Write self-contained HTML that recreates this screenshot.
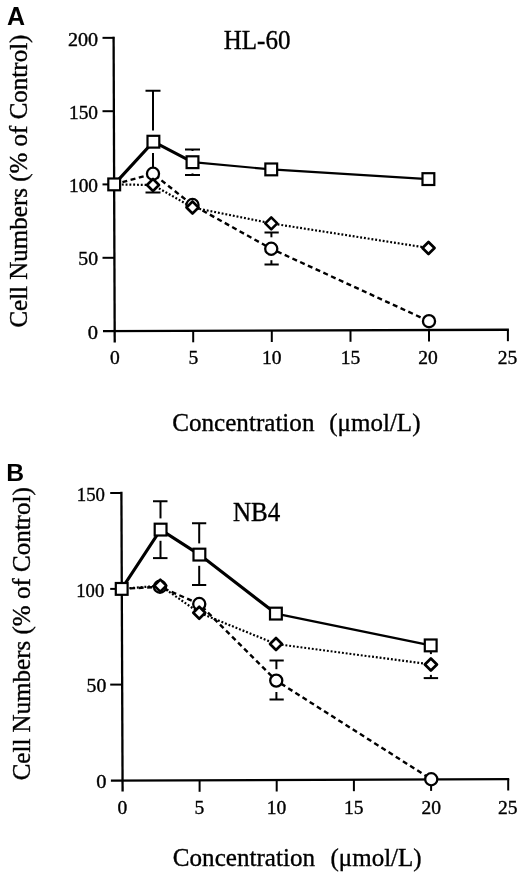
<!DOCTYPE html>
<html lang="en"><head><meta charset="utf-8"><title>Figure</title>
<style>html,body{margin:0;padding:0;background:#fff;}svg{display:block;}</style>
</head><body>
<svg width="520" height="872" viewBox="0 0 520 872">
<rect width="520" height="872" fill="#fff"/>
<g id="panelA">
<text transform="translate(7.0,24.7)" font-family='"Liberation Sans", sans-serif' font-size="25" font-weight="bold" text-anchor="start" fill="#000" stroke="#000" stroke-width="0">A</text>
<line x1="113.6" y1="36.8" x2="114.72" y2="342.5" stroke="#000" stroke-width="2.3" />
<line x1="103" y1="331.15" x2="508.9" y2="329.75" stroke="#000" stroke-width="2.3" />
<line x1="102.5" y1="37.85" x2="114.3" y2="37.85" stroke="#000" stroke-width="2.0" />
<line x1="102.5" y1="111.2" x2="114.3" y2="111.2" stroke="#000" stroke-width="2.0" />
<line x1="102.5" y1="184.4" x2="114.3" y2="184.4" stroke="#000" stroke-width="2.0" />
<line x1="102.5" y1="257.8" x2="114.3" y2="257.8" stroke="#000" stroke-width="2.0" />
<line x1="193.2" y1="330.8" x2="193.2" y2="342.3" stroke="#000" stroke-width="2.0" />
<line x1="271.8" y1="330.5" x2="271.8" y2="342.0" stroke="#000" stroke-width="2.0" />
<line x1="350.5" y1="330.3" x2="350.5" y2="341.8" stroke="#000" stroke-width="2.0" />
<line x1="429" y1="330" x2="429" y2="341.5" stroke="#000" stroke-width="2.0" />
<line x1="507.9" y1="329.7" x2="507.9" y2="341.2" stroke="#000" stroke-width="2.0" />
<text transform="translate(98,46) scale(1.08,1)" font-family='"Liberation Serif", serif' font-size="18.6" font-weight="normal" text-anchor="end" fill="#000" stroke="#000" stroke-width="0.35">200</text>
<text transform="translate(98,119) scale(1.04,1)" font-family='"Liberation Serif", serif' font-size="18.6" font-weight="normal" text-anchor="end" fill="#000" stroke="#000" stroke-width="0.35">150</text>
<text transform="translate(98,192) scale(1.04,1)" font-family='"Liberation Serif", serif' font-size="18.6" font-weight="normal" text-anchor="end" fill="#000" stroke="#000" stroke-width="0.35">100</text>
<text transform="translate(98,265) scale(1.06,1)" font-family='"Liberation Serif", serif' font-size="18.6" font-weight="normal" text-anchor="end" fill="#000" stroke="#000" stroke-width="0.35">50</text>
<text transform="translate(98,338.6) scale(1.1,1)" font-family='"Liberation Serif", serif' font-size="18.6" font-weight="normal" text-anchor="end" fill="#000" stroke="#000" stroke-width="0.35">0</text>
<text transform="translate(114.9,364) scale(1.05,1)" font-family='"Liberation Serif", serif' font-size="18.6" font-weight="normal" text-anchor="middle" fill="#000" stroke="#000" stroke-width="0.35">0</text>
<text transform="translate(193.5,364) scale(1.05,1)" font-family='"Liberation Serif", serif' font-size="18.6" font-weight="normal" text-anchor="middle" fill="#000" stroke="#000" stroke-width="0.35">5</text>
<text transform="translate(271.7,364) scale(1.05,1)" font-family='"Liberation Serif", serif' font-size="18.6" font-weight="normal" text-anchor="middle" fill="#000" stroke="#000" stroke-width="0.35">10</text>
<text transform="translate(350.5,364) scale(1.05,1)" font-family='"Liberation Serif", serif' font-size="18.6" font-weight="normal" text-anchor="middle" fill="#000" stroke="#000" stroke-width="0.35">15</text>
<text transform="translate(428,364) scale(1.05,1)" font-family='"Liberation Serif", serif' font-size="18.6" font-weight="normal" text-anchor="middle" fill="#000" stroke="#000" stroke-width="0.35">20</text>
<text transform="translate(507.4,364) scale(1.05,1)" font-family='"Liberation Serif", serif' font-size="18.6" font-weight="normal" text-anchor="middle" fill="#000" stroke="#000" stroke-width="0.35">25</text>
<text transform="translate(223.8,49.0) scale(1,1.05)" font-family='"Liberation Serif", serif' font-size="25" font-weight="normal" text-anchor="start" fill="#000" stroke="#000" stroke-width="0.35">HL-60</text>
<text transform="translate(172.2,430.5) scale(1.005,1.02)" font-family='"Liberation Serif", serif' font-size="25" font-weight="normal" text-anchor="start" fill="#000" stroke="#000" stroke-width="0.35">Concentration</text>
<text transform="translate(329.3,430.5) scale(1,1.02)" font-family='"Liberation Serif", serif' font-size="25" font-weight="normal" text-anchor="start" fill="#000" stroke="#000" stroke-width="0.35">(μmol/L)</text>
<text transform="translate(27.2,327.6) rotate(-90)" font-family='"Liberation Serif", serif' font-size="25" font-weight="normal" text-anchor="start" fill="#000" stroke="#000" stroke-width="0.35">Cell Numbers (% of Control)</text>
<line x1="153" y1="90.75" x2="153" y2="130.5" stroke="#000" stroke-width="2.0" />
<line x1="153" y1="152.89999999999998" x2="153" y2="192.5" stroke="#000" stroke-width="2.0" />
<line x1="145.5" y1="90.75" x2="160.5" y2="90.75" stroke="#000" stroke-width="2.0" />
<line x1="145.5" y1="192.5" x2="160.5" y2="192.5" stroke="#000" stroke-width="2.0" />
<line x1="192.5" y1="149.5" x2="192.5" y2="151.0" stroke="#000" stroke-width="2.0" />
<line x1="192.5" y1="173.39999999999998" x2="192.5" y2="175" stroke="#000" stroke-width="2.0" />
<line x1="185" y1="149.5" x2="200" y2="149.5" stroke="#000" stroke-width="2.0" />
<line x1="185" y1="175" x2="200" y2="175" stroke="#000" stroke-width="2.0" />
<line x1="271.4" y1="232.5" x2="271.4" y2="237.3" stroke="#000" stroke-width="2.0" />
<line x1="271.4" y1="260.2" x2="271.4" y2="264.5" stroke="#000" stroke-width="2.0" />
<line x1="264.5" y1="232.5" x2="278.75" y2="232.5" stroke="#000" stroke-width="2.0" />
<line x1="264.5" y1="264.5" x2="278.75" y2="264.5" stroke="#000" stroke-width="2.0" />
<polyline points="114.2,184.4 153.4,141.7 192.5,162.2" fill="none" stroke="#000" stroke-width="3.1" stroke-linejoin="miter"/>
<polyline points="192.5,162.2 271.25,169.4 428.4,179.1" fill="none" stroke="#000" stroke-width="2.2" />
<polyline points="114.2,184.4 153,173.75 192.5,205 271.25,248.75 429,321.2" fill="none" stroke="#000" stroke-width="2.4" stroke-dasharray="5 3.5"/>
<polyline points="114.2,184.4 153,185 192.5,207.5 271.25,223.4 428.5,248" fill="none" stroke="#000" stroke-width="2.2" stroke-dasharray="1.9 1.9"/>
<circle cx="153" cy="173.75" r="6.05" fill="#fff" stroke="#000" stroke-width="2.3"/>
<circle cx="192.5" cy="205" r="6.05" fill="#fff" stroke="#000" stroke-width="2.3"/>
<circle cx="271.25" cy="248.75" r="6.05" fill="#fff" stroke="#000" stroke-width="2.3"/>
<circle cx="429" cy="321.2" r="6.05" fill="#fff" stroke="#000" stroke-width="2.3"/>
<polygon points="153,179.00 159.00,185 153,191.00 147.00,185" fill="#fff" stroke="#000" stroke-width="2.6" stroke-linejoin="round"/>
<polygon points="192.5,201.50 198.50,207.5 192.5,213.50 186.50,207.5" fill="#fff" stroke="#000" stroke-width="2.6" stroke-linejoin="round"/>
<polygon points="271.25,217.40 277.25,223.4 271.25,229.40 265.25,223.4" fill="#fff" stroke="#000" stroke-width="2.6" stroke-linejoin="round"/>
<polygon points="428.5,241.95 434.55,248 428.5,254.05 422.45,248" fill="#fff" stroke="#000" stroke-width="2.7" stroke-linejoin="round"/>
<rect x="108.30" y="178.50" width="11.80" height="11.80" fill="#fff" stroke="#000" stroke-width="2.2"/>
<rect x="147.50" y="135.80" width="11.80" height="11.80" fill="#fff" stroke="#000" stroke-width="2.2"/>
<rect x="186.60" y="156.30" width="11.80" height="11.80" fill="#fff" stroke="#000" stroke-width="2.2"/>
<rect x="265.35" y="163.50" width="11.80" height="11.80" fill="#fff" stroke="#000" stroke-width="2.2"/>
<rect x="422.50" y="173.20" width="11.80" height="11.80" fill="#fff" stroke="#000" stroke-width="2.2"/>
</g>
<g id="panelB">
<text transform="translate(6.3,481.2)" font-family='"Liberation Sans", sans-serif' font-size="24.7" font-weight="bold" text-anchor="start" fill="#000" stroke="#000" stroke-width="0">B</text>
<line x1="121.4" y1="491.85" x2="122.6" y2="791.6" stroke="#000" stroke-width="2.3" />
<line x1="110.9" y1="780.67" x2="509.2" y2="779.03" stroke="#000" stroke-width="2.3" />
<line x1="110.2" y1="493.0" x2="122" y2="493.0" stroke="#000" stroke-width="2.0" />
<line x1="110.2" y1="588.9" x2="122" y2="588.9" stroke="#000" stroke-width="2.0" />
<line x1="110.2" y1="684.6" x2="122" y2="684.6" stroke="#000" stroke-width="2.0" />
<line x1="199.6" y1="780.3" x2="199.6" y2="791.8" stroke="#000" stroke-width="2.0" />
<line x1="276.7" y1="780" x2="276.7" y2="791.5" stroke="#000" stroke-width="2.0" />
<line x1="353.9" y1="779.7" x2="353.9" y2="791.2" stroke="#000" stroke-width="2.0" />
<line x1="431.1" y1="779.4" x2="431.1" y2="790.9" stroke="#000" stroke-width="2.0" />
<line x1="508.2" y1="779.0" x2="508.2" y2="790.5" stroke="#000" stroke-width="2.0" />
<text transform="translate(105,501.1) scale(1.01,1)" font-family='"Liberation Serif", serif' font-size="18.6" font-weight="normal" text-anchor="end" fill="#000" stroke="#000" stroke-width="0.35">150</text>
<text transform="translate(104.2,596.8)" font-family='"Liberation Serif", serif' font-size="18.6" font-weight="normal" text-anchor="end" fill="#000" stroke="#000" stroke-width="0.35">100</text>
<text transform="translate(106.3,692.3) scale(1.06,1)" font-family='"Liberation Serif", serif' font-size="18.6" font-weight="normal" text-anchor="end" fill="#000" stroke="#000" stroke-width="0.35">50</text>
<text transform="translate(106.5,787.8) scale(1.1,1)" font-family='"Liberation Serif", serif' font-size="18.6" font-weight="normal" text-anchor="end" fill="#000" stroke="#000" stroke-width="0.35">0</text>
<text transform="translate(122.5,813.7) scale(1.05,1)" font-family='"Liberation Serif", serif' font-size="18.6" font-weight="normal" text-anchor="middle" fill="#000" stroke="#000" stroke-width="0.35">0</text>
<text transform="translate(199.5,813.7) scale(1.05,1)" font-family='"Liberation Serif", serif' font-size="18.6" font-weight="normal" text-anchor="middle" fill="#000" stroke="#000" stroke-width="0.35">5</text>
<text transform="translate(276.5,813.7) scale(1.05,1)" font-family='"Liberation Serif", serif' font-size="18.6" font-weight="normal" text-anchor="middle" fill="#000" stroke="#000" stroke-width="0.35">10</text>
<text transform="translate(353.75,813.7) scale(1.05,1)" font-family='"Liberation Serif", serif' font-size="18.6" font-weight="normal" text-anchor="middle" fill="#000" stroke="#000" stroke-width="0.35">15</text>
<text transform="translate(431.25,813.7) scale(1.05,1)" font-family='"Liberation Serif", serif' font-size="18.6" font-weight="normal" text-anchor="middle" fill="#000" stroke="#000" stroke-width="0.35">20</text>
<text transform="translate(507.7,813.7) scale(1.05,1)" font-family='"Liberation Serif", serif' font-size="18.6" font-weight="normal" text-anchor="middle" fill="#000" stroke="#000" stroke-width="0.35">25</text>
<text transform="translate(233,521.0) scale(1,1.05)" font-family='"Liberation Serif", serif' font-size="25" font-weight="normal" text-anchor="start" fill="#000" stroke="#000" stroke-width="0.35">NB4</text>
<text transform="translate(172.8,866.2) scale(1.005,1.02)" font-family='"Liberation Serif", serif' font-size="25" font-weight="normal" text-anchor="start" fill="#000" stroke="#000" stroke-width="0.35">Concentration</text>
<text transform="translate(330.5,866.2) scale(1,1.02)" font-family='"Liberation Serif", serif' font-size="25" font-weight="normal" text-anchor="start" fill="#000" stroke="#000" stroke-width="0.35">(μmol/L)</text>
<text transform="translate(29.5,780.3) rotate(-90)" font-family='"Liberation Serif", serif' font-size="25" font-weight="normal" text-anchor="start" fill="#000" stroke="#000" stroke-width="0.35">Cell Numbers (% of Control)</text>
<line x1="160.5" y1="501.25" x2="160.5" y2="518.4" stroke="#000" stroke-width="2.0" />
<line x1="160.5" y1="540.8000000000001" x2="160.5" y2="558.1" stroke="#000" stroke-width="2.0" />
<line x1="153" y1="501.25" x2="167.5" y2="501.25" stroke="#000" stroke-width="2.0" />
<line x1="153" y1="558.1" x2="167.5" y2="558.1" stroke="#000" stroke-width="2.0" />
<line x1="199.2" y1="523.25" x2="199.2" y2="543.4" stroke="#000" stroke-width="2.0" />
<line x1="199.2" y1="565.8000000000001" x2="199.2" y2="585" stroke="#000" stroke-width="2.0" />
<line x1="192" y1="523.25" x2="206.25" y2="523.25" stroke="#000" stroke-width="2.0" />
<line x1="192" y1="585" x2="206.25" y2="585" stroke="#000" stroke-width="2.0" />
<line x1="276.4" y1="660.5" x2="276.4" y2="669.1999999999999" stroke="#000" stroke-width="2.0" />
<line x1="276.4" y1="692.0" x2="276.4" y2="699.5" stroke="#000" stroke-width="2.0" />
<line x1="269.5" y1="660.5" x2="283.75" y2="660.5" stroke="#000" stroke-width="2.0" />
<line x1="269.5" y1="699.5" x2="283.75" y2="699.5" stroke="#000" stroke-width="2.0" />
<line x1="430.9" y1="651" x2="430.9" y2="654.1" stroke="#000" stroke-width="2.0" />
<line x1="430.9" y1="674.9" x2="430.9" y2="678.1" stroke="#000" stroke-width="2.0" />
<line x1="423.7" y1="678.1" x2="438.1" y2="678.1" stroke="#000" stroke-width="2.0" />
<polyline points="121.7,588.9 160.6,529.6 199.4,554.6 275.9,613.6" fill="none" stroke="#000" stroke-width="3.1" stroke-linejoin="miter"/>
<polyline points="275.9,613.6 430.7,645.4" fill="none" stroke="#000" stroke-width="2.3" />
<polyline points="121.7,588.9 160,586.75 199.25,604 276.25,680.6 431.25,779.25" fill="none" stroke="#000" stroke-width="2.4" stroke-dasharray="5 3.5"/>
<polyline points="121.7,588.9 160.3,585.6 199.25,612.75 276,644 430.9,664.5" fill="none" stroke="#000" stroke-width="2.2" stroke-dasharray="1.9 1.9"/>
<circle cx="160" cy="586.75" r="6.05" fill="#fff" stroke="#000" stroke-width="2.3"/>
<circle cx="199.25" cy="604" r="6.05" fill="#fff" stroke="#000" stroke-width="2.3"/>
<circle cx="276.25" cy="680.6" r="6.05" fill="#fff" stroke="#000" stroke-width="2.3"/>
<circle cx="431.25" cy="779.25" r="6.05" fill="#fff" stroke="#000" stroke-width="2.3"/>
<polygon points="160.3,579.60 166.30,585.6 160.3,591.60 154.30,585.6" fill="#fff" stroke="#000" stroke-width="2.6" stroke-linejoin="round"/>
<polygon points="199.25,606.75 205.25,612.75 199.25,618.75 193.25,612.75" fill="#fff" stroke="#000" stroke-width="2.6" stroke-linejoin="round"/>
<polygon points="276,638.00 282.00,644 276,650.00 270.00,644" fill="#fff" stroke="#000" stroke-width="2.6" stroke-linejoin="round"/>
<polygon points="430.9,658.45 436.95,664.5 430.9,670.55 424.85,664.5" fill="#fff" stroke="#000" stroke-width="2.7" stroke-linejoin="round"/>
<rect x="115.80" y="583.00" width="11.80" height="11.80" fill="#fff" stroke="#000" stroke-width="2.2"/>
<rect x="154.70" y="523.70" width="11.80" height="11.80" fill="#fff" stroke="#000" stroke-width="2.2"/>
<rect x="193.50" y="548.70" width="11.80" height="11.80" fill="#fff" stroke="#000" stroke-width="2.2"/>
<rect x="270.00" y="607.70" width="11.80" height="11.80" fill="#fff" stroke="#000" stroke-width="2.2"/>
<rect x="424.80" y="639.50" width="11.80" height="11.80" fill="#fff" stroke="#000" stroke-width="2.2"/>
</g>
</svg>
</body></html>
